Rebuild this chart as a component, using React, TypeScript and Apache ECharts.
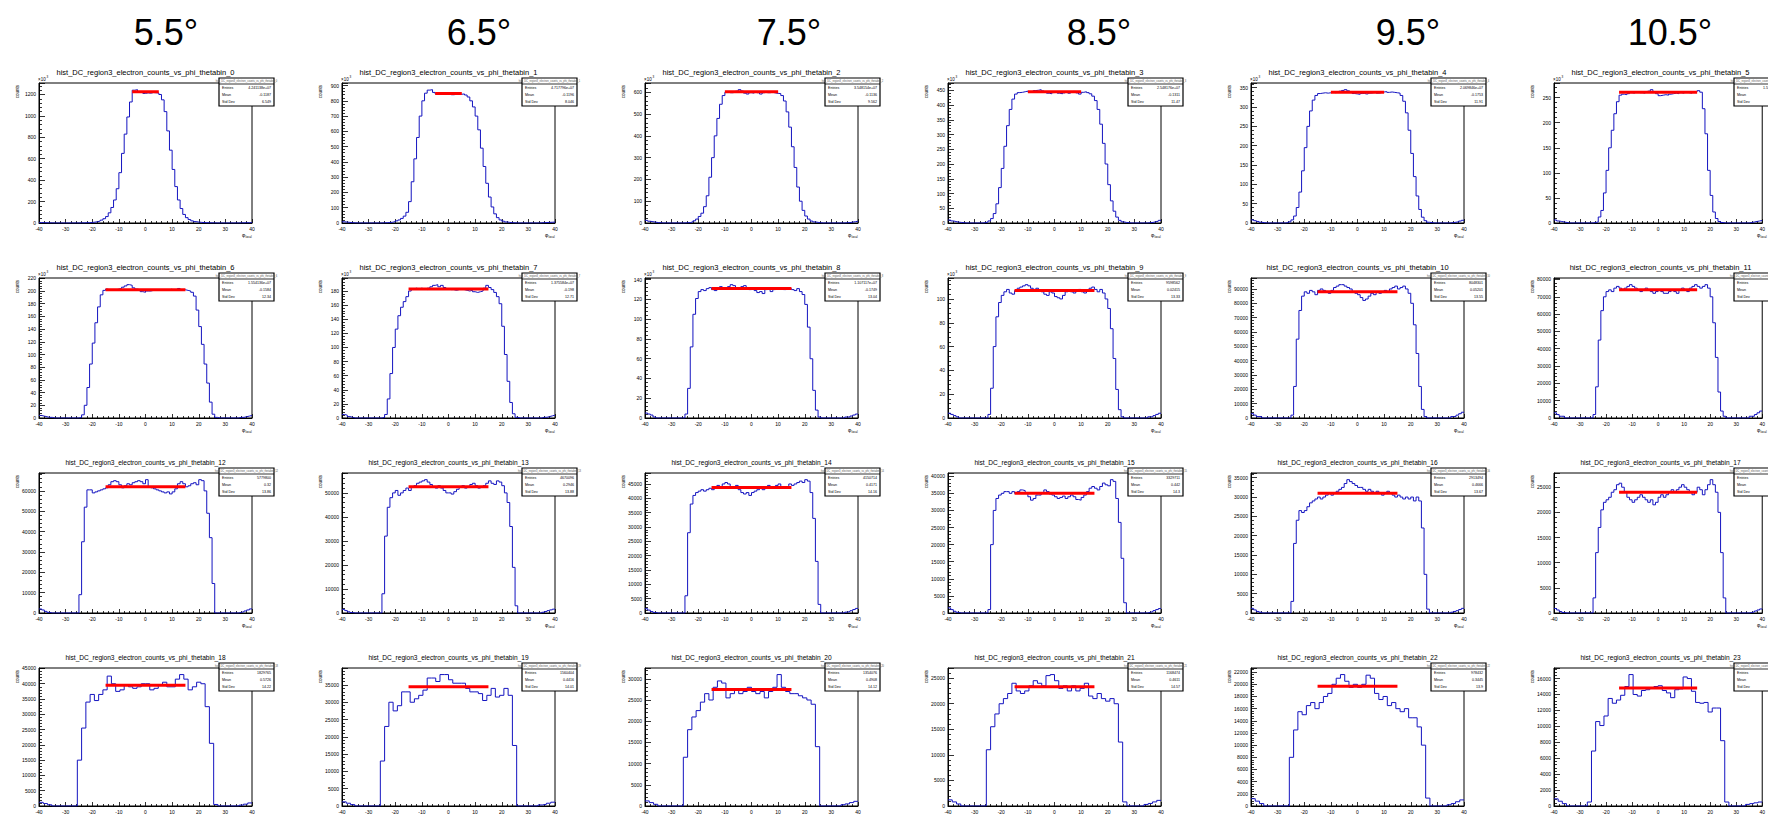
import React, { useEffect, useRef } from 'react';
import * as echarts from 'echarts';

const FONT = 'Liberation Sans, Arial, Helvetica, sans-serif';

const HEADERS = ['5.5°', '6.5°', '7.5°', '8.5°', '9.5°', '10.5°'];
const HEADER_X = [166, 479, 789, 1099, 1408, 1670];

// ---- histogram bin contents, in thousands of counts (bins span -40..40) ----
const H0 = [
  4, 3, 2, 1, 1, 0, 0, 0, 0, 0,
  0, 0, 0, 0, 0, 1, 1, 2, 3, 5,
  8, 12, 18, 27, 40, 60, 95, 145, 215, 320,
  470, 650, 830, 990, 1130, 1240, 1245, 1225, 1220, 1210,
  1215, 1212, 1218, 1216, 1214, 1200, 1150, 1040, 860, 680,
  500, 340, 215, 135, 80, 50, 32, 20, 13, 9,
  6, 4, 3, 2, 1, 1, 0, 0, 0, 0,
  0, 0, 0, 0, 0, 1, 1, 2, 2, 3,
];
const H1 = [
  8, 6, 4, 2, 1, 0, 0, 0, 0, 0,
  0, 0, 0, 0, 0, 1, 2, 3, 5, 9,
  14, 20, 30, 45, 70, 140, 270, 420, 560, 700,
  800, 850, 870, 873, 855, 845, 845, 846, 847, 848,
  846, 840, 842, 845, 843, 845, 838, 825, 800, 760,
  700, 610, 490, 370, 260, 170, 105, 60, 35, 20,
  12, 7, 4, 2, 1, 0, 0, 0, 0, 0,
  0, 0, 0, 0, 1, 2, 3, 4, 5, 6,
];
const H2 = [
  12, 8, 6, 4, 2, 1, 0, 0, 0, 0,
  0, 0, 0, 0, 0, 1, 2, 5, 10, 18,
  30, 45, 75, 125, 210, 300, 400, 480, 545, 585,
  600, 603, 598, 600, 605, 612, 606, 596, 592, 598,
  596, 603, 598, 592, 598, 602, 598, 600, 597, 595,
  594, 585, 560, 510, 440, 350, 255, 165, 100, 58,
  32, 18, 9, 5, 3, 1, 0, 0, 0, 0,
  0, 0, 0, 0, 0, 1, 2, 4, 6, 8,
];
const H3 = [
  10, 7, 5, 3, 2, 1, 0, 0, 0, 0,
  0, 0, 0, 1, 3, 7, 15, 32, 65, 120,
  185, 260, 330, 385, 420, 437, 442, 443, 445, 447,
  444, 446, 449, 450, 452, 448, 445, 440, 438, 442,
  445, 440, 438, 441, 444, 440, 443, 446, 441, 437,
  443, 445, 442, 438, 430, 415, 385, 335, 270, 200,
  130, 75, 40, 20, 9, 4, 2, 1, 0, 0,
  0, 0, 0, 0, 0, 1, 2, 4, 6, 9,
];
const H4 = [
  8, 6, 4, 2, 1, 0, 0, 0, 0, 0,
  0, 0, 0, 1, 3, 8, 18, 40, 80, 135,
  195, 250, 290, 318, 330, 335, 336, 337, 336, 337,
  338, 337, 339, 341, 343, 345, 342, 338, 335, 334,
  333, 335, 336, 334, 336, 337, 338, 336, 337, 339,
  340, 338, 339, 338, 337, 336, 330, 315, 285, 240,
  180, 120, 70, 35, 15, 6, 2, 1, 0, 0,
  0, 0, 0, 0, 0, 1, 2, 3, 5, 7,
];
const H5 = [
  6, 4, 3, 2, 1, 0, 0, 0, 0, 0,
  0, 0, 0, 0, 0, 1, 2, 12, 25, 60,
  105, 150, 185, 218, 242, 255, 257, 256, 258, 260,
  259, 261, 262, 260, 259, 261, 263, 266, 262, 258,
  254, 255, 256, 255, 257, 258, 259, 258, 260, 259,
  261, 260, 259, 261, 262, 264, 261, 228, 178, 105,
  55, 22, 9, 3, 1, 0, 0, 0, 0, 0,
  0, 0, 0, 0, 0, 1, 2, 3, 4, 5,
];
const H6 = [
  4, 3, 2, 1, 1, 0, 0, 0, 0, 0,
  0, 0, 0, 0, 0, 1, 5, 20, 48, 85,
  118, 150, 175, 194, 201, 203, 201, 202, 202, 203,
  204, 206, 208, 210, 209, 205, 203, 202, 199, 198,
  200, 200, 201, 202, 201, 202, 201, 201, 202, 203,
  201, 202, 204, 201, 202, 201, 200, 198, 192, 170,
  144, 116, 85, 55, 25, 6, 1, 0, 0, 0,
  0, 0, 0, 0, 0, 1, 1, 2, 3, 4,
];
const H7 = [
  5, 4, 2, 1, 0, 0, 0, 0, 0, 0,
  0, 0, 0, 0, 0, 1, 5, 27, 63, 100,
  126, 145, 157, 165, 172, 180, 183, 184, 183, 184,
  183, 182, 184, 186, 188, 189, 186, 188, 185, 183,
  182, 182, 181, 182, 183, 182, 181, 180, 181, 179,
  178, 179, 180, 184, 188, 185, 182, 178, 172, 162,
  130, 90, 52, 22, 6, 1, 0, 0, 0, 0,
  0, 0, 0, 0, 0, 1, 1, 2, 3, 4,
];
const H8 = [
  5, 4, 3, 1, 0, 0, 0, 0, 0, 0,
  0, 0, 0, 0, 0, 4, 30, 72, 105, 121,
  128, 130, 129, 131, 132, 130, 129, 131, 133, 132,
  131, 133, 135, 134, 132, 131, 133, 134, 132, 130,
  131, 129, 127, 128, 126, 130, 131, 128, 130, 131,
  132, 131, 130, 132, 131, 130, 129, 131, 128, 125,
  115, 92, 60, 28, 8, 1, 0, 0, 0, 0,
  0, 0, 0, 0, 0, 1, 1, 2, 3, 4,
];
const H9 = [
  4, 3, 2, 1, 0, 0, 0, 0, 0, 0,
  0, 0, 0, 0, 0, 3, 25, 60, 85, 97,
  103, 106, 108, 105, 104, 107, 109, 110, 111, 112,
  111, 109, 108, 109, 107, 106, 104, 103, 106, 105,
  102, 101, 100, 103, 106, 107, 106, 105, 107, 108,
  106, 105, 107, 109, 110, 108, 106, 108, 105, 100,
  92, 75, 50, 24, 7, 1, 0, 0, 0, 0,
  0, 0, 0, 0, 0, 1, 1, 2, 3, 4,
];
const H10 = [
  3, 2, 1, 1, 0, 0, 0, 0, 0, 0,
  0, 0, 0, 0, 0, 2, 22, 55, 75, 85,
  88, 87, 89, 88, 86, 89, 90, 89, 88, 87,
  89, 91, 92, 93, 93, 92, 91, 90, 88, 87,
  86, 84, 82, 83, 85, 87, 86, 88, 87, 88,
  89, 88, 90, 91, 92, 90, 91, 92, 90, 87,
  80, 65, 45, 22, 6, 1, 0, 0, 0, 0,
  0, 0, 0, 0, 0, 1, 1, 2, 3, 4,
];
const H11 = [
  3, 2, 1, 1, 0, 0, 0, 0, 0, 0,
  0, 0, 0, 0, 0, 2, 18, 45, 62, 70,
  73, 74, 73, 75, 76, 75, 74, 75, 76, 77,
  76, 75, 74, 73, 74, 75, 74, 73, 72, 73,
  74, 73, 72, 72, 73, 74, 73, 72, 74, 75,
  74, 73, 75, 76, 77, 76, 75, 76, 77, 75,
  70, 55, 35, 15, 4, 1, 0, 0, 0, 0,
  0, 0, 0, 0, 0, 1, 1, 2, 3, 4,
];
const H12 = [
  2, 1.5, 0.8, 0.3, 0, 0, 0, 0, 0, 0,
  0, 0, 0, 0, 0, 9, 35, 52, 60.5, 60.5,
  59, 59.5, 60, 60.5, 61, 61.5, 63, 64.5, 65, 64.5,
  63, 61.5, 62.5, 63.5, 63, 64, 64.5, 65, 64.5, 63.5,
  65.5, 62, 61.5, 61, 60.5, 60, 59.5, 59, 59.5, 58.5,
  59.5, 61, 63.5, 64.5, 63.5, 62, 62.5, 63.5, 64, 63,
  65.5, 65, 60, 49, 37, 14.5, 0, 0, 0, 0,
  0, 0, 0, 0, 0, 0.3, 0.6, 1, 1.5, 2,
];
const H13 = [
  1.5, 1, 0.5, 0.2, 0, 0, 0, 0, 0, 0,
  0, 0, 0, 0, 0, 8, 32, 44, 48, 50,
  51, 49, 50, 51, 52, 51, 52.5, 53, 54, 54.5,
  55, 55.5, 54.5, 53.5, 52.5, 52, 53, 52, 51, 50,
  50, 49.5, 50.5, 51.5, 52.5, 53, 52, 52.5, 53.5, 54,
  53, 52, 52.5, 53, 54, 55, 54, 53.5, 55, 54.5,
  53, 50, 46, 36, 19, 3, 0, 0, 0, 0,
  0, 0, 0, 0, 0, 0.3, 0.6, 1, 1.3, 1.6,
];
const H14 = [
  1.5, 1, 0.5, 0.2, 0, 0, 0, 0, 0, 0,
  0, 0, 0, 0, 0, 6, 28, 38, 41, 42,
  42.5, 43, 42.5, 43, 43.5, 43, 44, 44.5, 44, 45,
  45.5, 45, 44, 43.5, 44.5, 43, 42, 41.5, 42, 41,
  42, 42.5, 43, 43.5, 43, 44, 44.5, 43.5, 44, 44.5,
  45, 44, 43.5, 44, 45, 44.5, 45, 45.5, 46, 45.5,
  46.5, 46, 42, 33, 18, 3, 0, 0, 0, 0,
  0, 0, 0, 0, 0, 0.3, 0.5, 0.8, 1.2, 1.6,
];
const H15 = [
  1.5, 1, 0.5, 0.2, 0, 0, 0, 0, 0, 0,
  0, 0, 0, 0, 0, 1, 20, 30, 33.5, 34.5,
  35, 35.5, 35.5, 35, 35.5, 35, 35.5, 36, 35.8, 35,
  34, 33, 33.5, 34.5, 34.5, 35, 36, 35.5, 34.8, 34.5,
  34, 33.5, 33.8, 34.2, 33.5, 34, 34.5, 34, 33.2, 33,
  33.8, 34.5, 35.5, 36.5, 37, 36.5, 36, 37, 38, 37.5,
  37.2, 39, 38.5, 33.5, 26.5, 16, 3, 0, 0, 0,
  0, 0, 0, 0, 0, 0.2, 0.4, 0.7, 1, 1.3,
];
const H16 = [
  1.2, 0.8, 0.4, 0.2, 0, 0, 0, 0, 0, 0,
  0, 0, 0, 0, 0, 3, 18, 24, 26.5, 26,
  26.5, 27.5, 28.5, 29, 29.5, 30, 29.5, 30, 30.5, 31,
  30.5, 31, 31.5, 32, 32.5, 33.5, 34.5, 34, 33.5, 33,
  32.5, 32.5, 32, 31.5, 32, 31.5, 31, 31.5, 31, 30.5,
  31, 31.5, 31, 30.5, 30, 30.5, 30, 29.5, 30, 29.5,
  30, 29, 30, 29, 22, 10, 1, 0, 0, 0,
  0, 0, 0, 0, 0, 0.2, 0.4, 0.6, 0.9, 1.2,
];
const H17 = [
  0.9, 0.6, 0.3, 0.1, 0, 0, 0, 0, 0, 0,
  0, 0, 0, 0, 0, 3, 12, 17, 20.5, 22,
  22.5, 23, 24, 24.5, 25.5, 25.8, 25, 24, 23, 22.5,
  22, 22.5, 23, 23.5, 23, 22.5, 22, 22.5, 21.5, 22,
  23, 23.5, 23, 23.5, 24, 24.5, 24, 24.5, 25, 25.5,
  25, 24.5, 24, 23.5, 24, 25, 24.5, 23.5, 24.5, 25.5,
  26.5, 25.5, 24, 20, 12, 3, 0, 0, 0, 0,
  0, 0, 0, 0, 0, 0.1, 0.2, 0.4, 0.6, 0.8,
];
// last row: 50 bins of 1.6°
const H18 = [
  1.2, 0.8, 0.4, 0, 0, 0, 0, 0, 0, 15,
  25.5, 34, 36.5, 34.5, 36.5, 38, 42.5, 40, 37.5, 38,
  39.5, 39, 38.5, 39, 40, 40, 38, 38.5, 39.5, 40.5,
  39, 39, 41.5, 43, 41.5, 38, 39, 40.5, 40, 32.5,
  20.5, 0.5, 0, 0, 0, 0, 0, 0.3, 0.6, 1,
];
const H19 = [
  1.2, 0.8, 0.4, 0, 0, 0, 0, 0, 0, 13,
  23, 30, 27.5, 29, 33, 33, 30, 31, 32, 33.5,
  37, 37, 36, 38, 38, 36.5, 35.5, 35.5, 35.5, 34,
  33, 33, 32.5, 30.5, 32, 34, 31.5, 32, 34, 32,
  17.5, 0, 0, 0, 0, 0, 0.3, 0.5, 0.8, 1.1,
];
const H20 = [
  1.2, 0.8, 0.4, 0, 0, 0, 0, 0, 0, 11.5,
  18, 21, 22.5, 24.5, 26.5, 25, 28, 29.5, 29, 25.5,
  26.5, 27.5, 26.5, 27, 28, 27, 26.5, 27, 25.5, 27,
  28, 31, 28, 27, 26.5, 26.5, 26, 25.5, 25, 24,
  14, 0, 0, 0, 0, 0, 0.3, 0.5, 0.8, 1.1,
];
const H21 = [
  1.2, 0.8, 0.4, 0, 0, 0, 0, 0, 0, 11,
  15.5, 18, 20, 21, 22, 24, 22.5, 22, 22.5, 23.5,
  24.5, 24, 23.5, 25.5, 25.7, 24.5, 23, 23.5, 22.5, 23.5,
  22.5, 23, 24, 21.5, 21, 22, 21, 20.5, 21, 20,
  12.5, 0.8, 0, 0, 0, 0, 0.3, 0.5, 0.8, 1.1,
];
const H22 = [
  1.2, 0.8, 0.4, 0, 0, 0, 0, 0, 0, 8,
  12.5, 15.5, 15, 16.5, 17, 16, 17, 18, 18.5, 20,
  21, 21.6, 20.5, 19.5, 20, 19.5, 20, 21.5, 21, 18.5,
  17.5, 18, 16.5, 17, 16, 15.5, 16, 14.5, 14.5, 13,
  10, 1.3, 0, 0, 0, 0, 0.2, 0.4, 0.7, 1,
];
const H23 = [
  0.9, 0.6, 0.3, 0, 0, 0, 0, 0, 0.5, 6.9,
  10.6, 10.1, 11.3, 13.5, 12.9, 13.3, 13.9, 15, 16.5, 14,
  13.8, 14.5, 14.6, 14.8, 15, 15.1, 14.5, 14.2, 13.6, 14.6,
  14.7, 16.2, 16, 14.4, 13, 12.9, 13, 11.8, 12.3, 12.3,
  8.2, 0.5, 0, 0, 0, 0, 0.2, 0.3, 0.4, 0.5,
];

const HISTS = [H0, H1, H2, H3, H4, H5, H6, H7, H8, H9, H10, H11, H12, H13, H14, H15, H16, H17, H18, H19, H20, H21, H22, H23];

// axis drawn in units of 10^3 (with "x10^3" marker) for the first ten pads
const SCALED = [true, true, true, true, true, true, true, true, true, true, false, false, false, false, false, false, false, false, false, false, false, false, false, false];
// y tick step, in axis units
const Y_STEP = [200, 100, 100, 50, 50, 50, 20, 20, 20, 20, 10000, 10000, 10000, 10000, 5000, 5000, 5000, 5000, 5000, 5000, 5000, 5000, 2000, 2000];

// constant fit: level (thousands) and range in phi
const FIT_LEVEL = [1225, 848, 602, 445, 338, 261, 202, 183, 131, 107, 88, 74, 62, 52.5, 43.8, 35, 31, 24, 39.5, 34.5, 27.5, 23.3, 19.7, 14.8];
const FIT_LO = [-5, -5, -10, -10, -10, -15, -15, -15, -15, -15, -15, -15, -15, -15, -15, -15, -15, -15, -15, -15, -15, -15, -15, -15];
const FIT_HI = [5, 5, 10, 10, 10, 15, 15, 15, 15, 15, 15, 15, 15, 15, 15, 15, 15, 15, 15, 15, 15, 15, 15, 15];

// stat box texts
const ENTRIES = ['4.241138e+07', '4.717796e+07', '3.548154e+07', '2.548176e+07', '2.069846e+07', '1.530214e+07',
  '1.554136e+07', '1.375584e+07', '1.107117e+07', '9598562', '8048301', '6982145',
  '5779800', '4670096', '4150714', '3329711', '2913494', '2245317',
  '1829765', '1560404', '1354076', '1168474', '978432', '825310'];
const MEANS = ['-0.1187', '-0.1196', '-0.1136', '-0.1311', '-0.1753', '-0.1622',
  '-0.1584', '-0.198', '-0.1749', '0.02415', '0.05201', '0.1034',
  '0.32', '0.2946', '0.4171', '0.442', '0.4666', '0.4927',
  '0.5726', '0.4416', '0.4908', '0.4611', '0.3445', '0.4027'];
const STDDEVS = ['6.549', '8.046', '9.562', '11.47', '11.91', '12.14',
  '12.34', '12.71', '13.04', '13.33', '13.55', '13.71',
  '13.86', '13.88', '14.16', '14.3', '13.67', '14.05',
  '14.22', '14.01', '14.12', '14.57', '13.9', '14.08'];

const X_MIN = -40;
const X_MAX = 40;
const X_STEP = 10;

// layout
const COL_LEFT = [39, 342, 645, 948, 1251, 1554];
const ROW_TOP = [83, 278, 473, 668];
const PLOT_W = 213;
const PLOT_H = 140;

function buildOption() {
  const grid: any[] = [];
  const xAxis: any[] = [];
  const yAxis: any[] = [];
  const series: any[] = [];
  const graphic: any[] = [];

  HEADERS.forEach((h, c) => {
    graphic.push({
      type: 'text', x: HEADER_X[c], y: 32, z: 100,
      style: { text: h, fontSize: 36, fontFamily: FONT, fill: '#000', align: 'center', verticalAlign: 'middle' },
    });
  });

  HISTS.forEach((h, i) => {
    const r = Math.floor(i / 6);
    const c = i % 6;
    const L = COL_LEFT[c];
    const T = ROW_TOP[r];
    const k = SCALED[i] ? 1 : 1000;
    const n = h.length;
    const w = (X_MAX - X_MIN) / n;
    const data: number[][] = h.map((v, j) => [X_MIN + j * w, v * k]);
    data.push([X_MAX, h[n - 1] * k]);
    const ymax = Math.max(...h) * k * 1.05;
    const step = Y_STEP[i];

    grid.push({ left: L, top: T, width: PLOT_W, height: PLOT_H, show: true, borderColor: '#000', borderWidth: 1, backgroundColor: 'transparent' });
    xAxis.push({
      type: 'value', gridIndex: i, min: X_MIN, max: X_MAX, interval: X_STEP,
      axisLine: { show: true, onZero: false, lineStyle: { color: '#000', width: 1 } },
      axisTick: { show: true, inside: true, length: 4, lineStyle: { color: '#000', width: 0.8 } },
      minorTick: { show: true, splitNumber: 5, length: 2, lineStyle: { color: '#000', width: 0.8 } },
      splitLine: { show: false }, minorSplitLine: { show: false },
      axisLabel: { fontSize: 5, color: '#000', margin: 3, fontFamily: FONT, formatter: (v: number) => String(v) },
    });
    yAxis.push({
      type: 'value', gridIndex: i, min: 0, max: ymax, interval: step,
      axisLine: { show: true, onZero: false, lineStyle: { color: '#000', width: 1 } },
      axisTick: { show: true, inside: true, length: 6, lineStyle: { color: '#000', width: 0.8 } },
      minorTick: { show: true, splitNumber: 5, length: 3, lineStyle: { color: '#000', width: 0.8 } },
      splitLine: { show: false }, minorSplitLine: { show: false },
      axisLabel: {
        fontSize: 5, color: '#000', margin: 3, fontFamily: FONT,
        formatter: (v: number) => (Math.abs(v / step - Math.round(v / step)) < 1e-6 ? String(Math.round(v)) : ''),
      },
    });
    series.push({
      type: 'line', xAxisIndex: i, yAxisIndex: i, data, step: 'end', symbol: 'none', showSymbol: false,
      lineStyle: { color: '#1414c0', width: 1 }, silent: true, z: 2,
    });
    series.push({
      type: 'line', xAxisIndex: i, yAxisIndex: i, symbol: 'none', showSymbol: false,
      data: [[FIT_LO[i], FIT_LEVEL[i] * k], [FIT_HI[i], FIT_LEVEL[i] * k]],
      lineStyle: { color: '#ff0000', width: 3 }, silent: true, z: 3,
    });

    const name = 'hist_DC_region3_electron_counts_vs_phi_thetabin_' + i;
    graphic.push({
      type: 'text', x: L + PLOT_W / 2, y: T - 11, z: 100,
      style: { text: name, fontSize: r < 2 ? 7.5 : 6.6, fontFamily: FONT, fill: '#000', align: 'center', verticalAlign: 'middle' },
    });
    if (SCALED[i]) {
      graphic.push({ type: 'text', x: L - 1, y: T - 4, z: 100, style: { text: '×10', fontSize: 4.5, fontFamily: FONT, fill: '#000', align: 'left', verticalAlign: 'middle' } });
      graphic.push({ type: 'text', x: L + 7.5, y: T - 6, z: 100, style: { text: '3', fontSize: 3, fontFamily: FONT, fill: '#000', align: 'left', verticalAlign: 'middle' } });
    }
    graphic.push({
      type: 'text', x: L - 22, y: T + 2, rotation: Math.PI / 2, z: 100,
      style: { text: 'counts', fontSize: 4.5, fontFamily: FONT, fill: '#000', align: 'right', verticalAlign: 'middle' },
    });
    // x-axis title (the bottom row's falls outside the picture)
    if (r < 3) {
      graphic.push({ type: 'text', x: L + PLOT_W - 10, y: T + PLOT_H + 12, z: 100, style: { text: 'φ', fontSize: 5, fontFamily: FONT, fill: '#000', align: 'left', verticalAlign: 'middle' } });
      graphic.push({ type: 'text', x: L + PLOT_W - 6.5, y: T + PLOT_H + 13.5, z: 100, style: { text: 'local', fontSize: 3, fontFamily: FONT, fill: '#000', align: 'left', verticalAlign: 'middle' } });
    }

    // stat box
    const bx = L + 180;
    const by = T - 5;
    const bw = 55;
    const bh = 28;
    graphic.push({ type: 'rect', z: 101, shape: { x: bx, y: by, width: bw, height: bh }, style: { fill: '#fff', stroke: '#000', lineWidth: 1.2 } });
    graphic.push({ type: 'line', z: 102, shape: { x1: bx, y1: by + 6, x2: bx + bw, y2: by + 6 }, style: { stroke: '#000', lineWidth: 0.8 } });
    graphic.push({ type: 'text', x: bx + bw / 2, y: by + 3, z: 102, style: { text: name, fontSize: 2.6, fontFamily: FONT, fill: '#555', align: 'center', verticalAlign: 'middle' } });
    const rows = [['Entries', ENTRIES[i]], ['Mean', MEANS[i]], ['Std Dev', STDDEVS[i]]];
    rows.forEach((rw, j) => {
      const yy = by + 10.3 + j * 6.6;
      graphic.push({ type: 'text', x: bx + 3, y: yy, z: 102, style: { text: rw[0], fontSize: 3.6, fontFamily: FONT, fill: '#000', align: 'left', verticalAlign: 'middle' } });
      graphic.push({ type: 'text', x: bx + bw - 3, y: yy, z: 102, style: { text: rw[1], fontSize: 3.6, fontFamily: FONT, fill: '#000', align: 'right', verticalAlign: 'middle' } });
    });
  });

  return {
    animation: false,
    backgroundColor: '#ffffff',
    textStyle: { fontFamily: FONT },
    grid,
    xAxis,
    yAxis,
    series,
    graphic: { elements: graphic },
  };
}

export default function App() {
  const ref = useRef<HTMLDivElement>(null);
  useEffect(() => {
    if (!ref.current) return;
    const chart = echarts.init(ref.current, null, { renderer: 'svg' });
    chart.setOption(buildOption() as any);
    return () => {
      chart.dispose();
    };
  }, []);
  return (
    <div
      ref={ref}
      style={{ position: 'absolute', left: 0, top: 0, width: 1768, height: 814, background: '#fff' }}
    />
  );
}
